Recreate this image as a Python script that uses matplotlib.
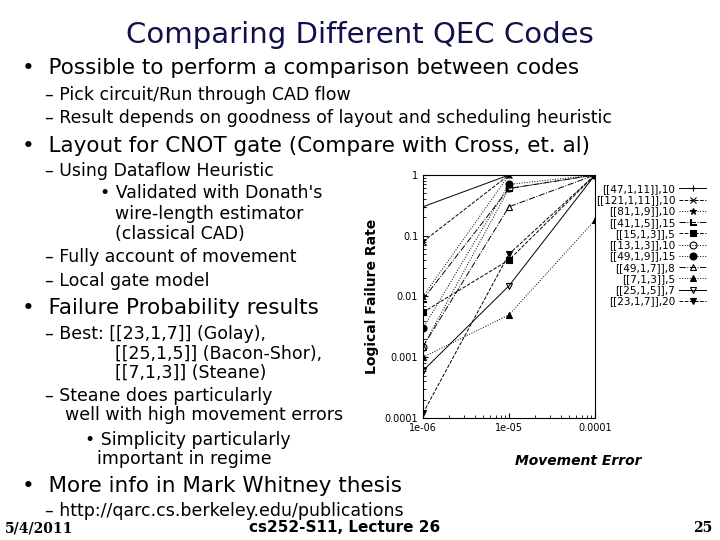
import numpy as np
import matplotlib
matplotlib.use("Agg")
import matplotlib.pyplot as plt

# Données
movement_error = [1e-6, 1e-5, 1e-4]
codes = ["[[47,1,11]],10", "[[121,1,11]],10", "[[81,1,9]],10", "[[41,1,5]],15",
         "[[15,1,3]],5", "[[13,1,3]],10", "[[49,1,9]],15", "[[49,1,7]],8",
         "[[7,1,3]],5", "[[25,1,5]],7", "[[23,1,7]],20"]
failure = [
    [0.3, 1.0, 1.0],
    [0.08, 1.0, 1.0],
    [0.01, 1.0, 1.0],
    [0.009, 0.6, 1.0],
    [0.0055, 0.04, 1.0],
    [0.0015, 0.6, 1.0],
    [0.003, 0.7, 1.0],
    [0.0015, 0.3, 1.0],
    [0.001, 0.005, 0.18],
    [0.0006, 0.015, 1.0],
    [0.00012, 0.05, 1.0],
]
markers = ["+", "x", "*", "$\\llcorner$", "s", "o", "o", "^", "^", "v", "v"]
fills = ["k", "k", "k", "k", "k", "none", "k", "none", "k", "none", "k"]
styles = ["-", "--", ":", "-.", "--", ":", ":", "-.", ":", "-", "--"]

W, H = 720, 540
fig = plt.figure(figsize=(7.2, 5.4), dpi=100)
fig.set_facecolor("white")

def txt(x, y, s, size, **kw):
    fig.text(x / W, 1 - y / H, s, fontsize=size, va="center", **kw)

txt(360, 35, "Comparing Different QEC Codes", 21, ha="center", color="#10104a")
txt(22, 68, "•  Possible to perform a comparison between codes", 15.5)
txt(45, 95, "– Pick circuit/Run through CAD flow", 12.5)
txt(45, 118, "– Result depends on goodness of layout and scheduling heuristic", 12.5)
txt(22, 146, "•  Layout for CNOT gate (Compare with Cross, et. al)", 15.5)
txt(45, 171, "– Using Dataflow Heuristic", 12.5)
txt(100, 193, "• Validated with Donath's", 12.5)
txt(115, 214, "wire-length estimator", 12.5)
txt(115, 234, "(classical CAD)", 12.5)
txt(45, 257, "– Fully account of movement", 12.5)
txt(45, 281, "– Local gate model", 12.5)
txt(22, 308, "•  Failure Probability results", 15.5)
txt(45, 334, "– Best: [[23,1,7]] (Golay),", 12.5)
txt(115, 354, "[[25,1,5]] (Bacon-Shor),", 12.5)
txt(115, 373, "[[7,1,3]] (Steane)", 12.5)
txt(45, 396, "– Steane does particularly", 12.5)
txt(65, 415, "well with high movement errors", 12.5)
txt(85, 440, "• Simplicity particularly", 12.5)
txt(97, 459, "important in regime", 12.5)
txt(22, 486, "•  More info in Mark Whitney thesis", 15.5)
txt(45, 511, "– http://qarc.cs.berkeley.edu/publications", 12.5)
txt(5, 528, "5/4/2011", 10, family="serif", weight="bold")
txt(345, 528, "cs252-S11, Lecture 26", 11, ha="center", weight="bold")
txt(712, 528, "25", 10, ha="right", family="serif", weight="bold")

# Graphe
ax = fig.add_axes([423 / W, 1 - 418 / H, (595 - 423) / W, (418 - 175) / H])
for name, vals, m, fc, ls in zip(codes, failure, markers, fills, styles):
    ax.plot(movement_error, vals, color="k", lw=0.7, ls=ls, marker=m, ms=5,
            mfc=fc, mec="k", mew=0.8, label=name)
ax.set_xscale("log")
ax.set_yscale("log")
ax.set_xlim(1e-6, 1e-4)
ax.set_ylim(1e-4, 1.0)
ax.set_xticks([1e-6, 1e-5, 1e-4])
ax.set_xticklabels(["1e-06", "1e-05", "0.0001"])
ax.set_yticks([1e-4, 1e-3, 1e-2, 0.1, 1])
ax.set_yticklabels(["0.0001", "0.001", "0.01", "0.1", "1"])
ax.tick_params(labelsize=7, direction="in", which="both")
ax.set_xlabel("Movement Error", fontsize=10, weight="bold", style="italic")
ax.xaxis.set_label_coords(0.9, -0.15)
ax.set_ylabel("Logical Failure Rate", fontsize=10, weight="bold")
ax.legend(loc="upper left", bbox_to_anchor=(0.98, 0.98), frameon=False,
          fontsize=7.5, markerfirst=False, handlelength=2.6, labelspacing=0.12,
          borderaxespad=0, handletextpad=0.4)

fig.savefig("out.png", dpi=100, facecolor="white")
